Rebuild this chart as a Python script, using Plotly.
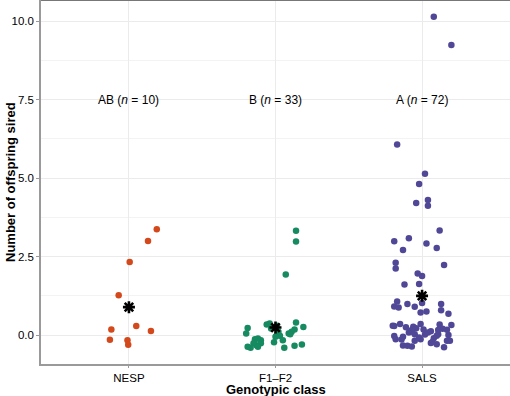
import plotly.graph_objects as go

categories = ["NESP", "F1–F2", "SALS"]
labels = ["AB (<i>n</i> = 10)", "B (<i>n</i> = 33)", "A (<i>n</i> = 72)"]
colors = ["#D4491C", "#168A60", "#504897"]

nesp_vals = [3.37, 3.00, 2.33, 1.27, 0.18, 0.29, 0.13, -0.15, -0.16, -0.31]
nesp_jit = [0.19, 0.13, 0.005, -0.07, -0.12, 0.05, 0.15, -0.13, -0.01, -0.005]

f1_vals = [3.32, 2.98, 1.93, 0.23, 0.05, 0.34, 0.37, 0.11, 0.00, -0.02, -0.16, -0.23,
           -0.40, 0.40, 0.26, 0.18, 0.11, 0.05, -0.34, -0.30, -0.13, -0.11, -0.16,
           -0.26, -0.32, -0.26, -0.40, -0.37, -0.37, -0.05, 0.21, 0.03, 0.30]
f1_jit = [0.14, 0.14, 0.07, -0.19, -0.20, -0.06, -0.04, 0.02, 0.01, 0.03, 0.05, -0.01,
          0.06, 0.14, 0.19, 0.13, 0.11, 0.09, 0.13, 0.18, -0.14, -0.12, -0.10, -0.10,
          -0.13, -0.15, -0.17, -0.19, -0.12, 0.00, -0.03, 0.10, 0.01]

sals_vals = [10.14, 9.24, 6.07, 5.14, 4.81, 4.21, 4.30, 4.12, 3.33, 2.99, 3.08, 2.92,
             2.71, 2.77, 2.30, 2.12, 2.23, 1.96, 1.88, 1.61, 1.63, 1.07, 0.91, 0.88,
             0.99, 0.90, 1.02, 0.99, 0.79, 0.72, 0.75, 0.68, 0.30, 0.29, 0.35, 0.27,
             0.22, 0.35, 0.34, 0.32, 0.16, 0.11, 0.08, 0.03, 0.18, 0.08, 0.02, 0.16,
             0.17, -0.02, 0.03, 0.00, -0.03, -0.13, -0.05, -0.14, -0.18, -0.13, -0.25,
             -0.22, -0.29, -0.18, -0.18, -0.39, -0.33, -0.34, -0.36, 0.25, 0.12, -0.08,
             0.20, -0.10]
sals_jit = [0.08, 0.20, -0.17, 0.02, -0.02, -0.04, 0.04, 0.04, 0.12, -0.19, -0.09, 0.03,
            -0.13, 0.10, -0.18, -0.18, 0.15, -0.03, 0.00, -0.12, -0.02, -0.17, -0.19, -0.16,
            -0.10, -0.05, 0.00, 0.13, 0.13, -0.01, 0.03, 0.18, -0.20, -0.19, -0.15, -0.06,
            -0.04, -0.01, 0.12, 0.20, -0.07, -0.08, -0.09, -0.05, 0.01, 0.04, 0.02, 0.11,
            0.17, 0.10, 0.11, 0.18, -0.19, -0.18, -0.13, -0.14, -0.05, -0.01, 0.06, 0.07,
            0.10, 0.17, 0.19, 0.15, -0.13, -0.10, -0.07, -0.11, 0.06, -0.02, 0.14, 0.08]

means = [0.89, 0.24, 1.25]

groups = [(nesp_vals, nesp_jit), (f1_vals, f1_jit), (sals_vals, sals_jit)]

fig = go.Figure()
for i, (vals, jit) in enumerate(groups):
    fig.add_trace(go.Scatter(
        x=[i + 1 + j for j in jit], y=vals, mode="markers",
        marker=dict(color=colors[i], size=6.5, line=dict(width=0)),
        showlegend=False, hoverinfo="skip"))

fig.add_trace(go.Scatter(
    x=[1, 2, 3], y=means, mode="markers",
    marker=dict(symbol="asterisk-open", size=10, color="black",
                line=dict(color="black", width=2.6)),
    showlegend=False, hoverinfo="skip"))

font_fam = "Liberation Sans, Arial"
for i, lab in enumerate(labels):
    fig.add_annotation(x=i + 1, y=7.5, text=lab, showarrow=False,
                       font=dict(size=12, color="black", family=font_fam),
                       xanchor="center", yanchor="middle")

fig.add_annotation(xref="paper", yref="paper", x=0.5, y=0, yshift=-25.5,
                   text="<b>Genotypic class</b>", showarrow=False,
                   font=dict(size=13, color="black", family=font_fam),
                   xanchor="center", yanchor="middle")
fig.add_annotation(xref="paper", yref="paper", x=0, y=0.5, xshift=-31,
                   text="<b>Number of offspring sired</b>", showarrow=False, textangle=-90,
                   font=dict(size=13, color="black", family=font_fam),
                   xanchor="center", yanchor="middle")

fig.update_layout(
    width=510, height=396,
    margin=dict(l=41, r=0, t=0, b=32, autoexpand=False),
    paper_bgcolor="white", plot_bgcolor="white",
    font=dict(family=font_fam, color="black"),
    xaxis=dict(
        range=[0.4, 3.6], tickvals=[1, 2, 3], ticktext=categories, automargin=False,
        showgrid=True, gridcolor="#ebebeb", gridwidth=1, zeroline=False,
        showline=True, linecolor="#9a9a9a", linewidth=1.5, mirror=False,
        ticks="outside", ticklen=2, tickcolor="#9a9a9a",
        tickfont=dict(size=11.5, color="black"),
    ),
    yaxis=dict(
        range=[-0.92, 10.67], tickvals=[0, 2.5, 5, 7.5, 10], automargin=False,
        ticktext=["0.0", "2.5", "5.0", "7.5", "10.0"],
        showgrid=True, gridcolor="#ebebeb", gridwidth=1.2, zeroline=False,
        minor=dict(tickvals=[1.25, 3.75, 6.25, 8.75], showgrid=True,
                   gridcolor="#f3f3f3", gridwidth=1, ticks=""),
        showline=True, linecolor="#9a9a9a", linewidth=1.5,
        ticks="outside", ticklen=3, tickcolor="#9a9a9a",
        tickfont=dict(size=11.5, color="black"),
    ),
)
fig.add_shape(type="line", xref="paper", yref="paper", x0=0, x1=1, y0=1, y1=1,
              line=dict(color="#777777", width=2))

fig.write_html("out.html", config={"displayModeBar": False},
               post_script="document.body.style.margin='0';document.body.style.overflow='hidden';")
